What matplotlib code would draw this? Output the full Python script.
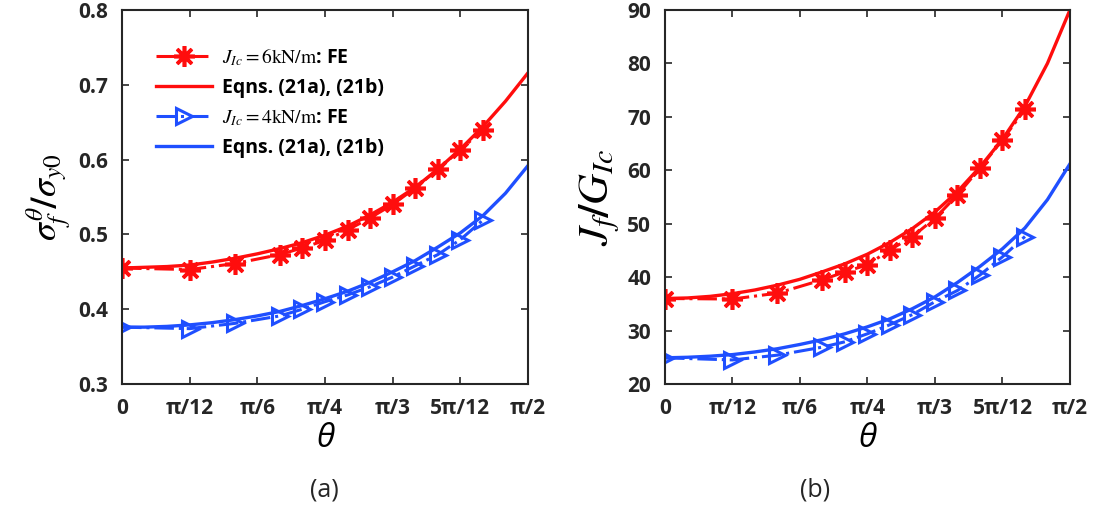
import matplotlib.pyplot as plt
import numpy as np

plt.rcParams['font.family'] = ['Open Sans', 'DejaVu Sans']
plt.rcParams['mathtext.fontset'] = 'stix'

# angles in degrees
theta_fe = [0, 15, 25, 35, 40, 45, 50, 55, 60, 65, 70, 75, 80]
theta_eq = [0, 5, 10, 15, 20, 25, 30, 35, 40, 45, 50, 55, 60, 65, 70, 75, 80, 85, 90]

# (a) normalised flow stress
sig_fe_6 = [0.455, 0.453, 0.461, 0.473, 0.482, 0.492, 0.506, 0.522, 0.540, 0.562, 0.587, 0.613, 0.640]
sig_eq_6 = [0.455, 0.456, 0.457, 0.459, 0.463, 0.468, 0.474, 0.481, 0.489, 0.499,
            0.511, 0.526, 0.543, 0.563, 0.587, 0.614, 0.644, 0.678, 0.716]
sig_fe_4 = [0.376, 0.374, 0.381, 0.391, 0.400, 0.410, 0.419, 0.430, 0.443, 0.458, 0.473, 0.493, 0.519]
sig_eq_4 = [0.376, 0.376, 0.377, 0.379, 0.382, 0.386, 0.391, 0.397, 0.405, 0.414,
            0.424, 0.436, 0.450, 0.465, 0.483, 0.502, 0.525, 0.555, 0.592]

# (b) normalised J
j_fe_6 = [36.0, 35.9, 37.0, 39.5, 41.0, 42.3, 45.1, 47.6, 51.0, 55.4, 60.4, 65.7, 71.4]
j_eq_6 = [36.0, 36.1, 36.4, 36.9, 37.6, 38.5, 39.6, 41.0, 42.5, 44.3,
          46.5, 49.1, 52.2, 56.0, 60.6, 65.8, 72.0, 80.0, 90.0]
j_fe_4 = [24.9, 24.5, 25.4, 26.9, 27.9, 29.4, 31.1, 33.0, 35.4, 37.5, 40.4, 43.8, 47.6]
j_eq_4 = [24.9, 25.0, 25.2, 25.5, 26.0, 26.6, 27.4, 28.3, 29.4, 30.7,
          32.2, 34.1, 36.3, 39.0, 42.0, 45.3, 49.2, 54.5, 61.2]

tick_labels = ['0', 'π/12', 'π/6', 'π/4', 'π/3', '5π/12', 'π/2']

red = '#ff0d0d'
blue = '#1f4fff'

x_fe = np.deg2rad(theta_fe)
x_eq = np.deg2rad(theta_eq)

fig = plt.figure(figsize=(10.93, 5.09), dpi=100)
ax1 = fig.add_axes([0.1116, 0.2456, 0.3715, 0.7348])
ax2 = fig.add_axes([0.6084, 0.2456, 0.3705, 0.7348])


def draw(ax, fe6, eq6, fe4, eq4):
    ax.plot(x_fe, fe6, '-.', color=red, lw=2.2, marker=(8, 2, 0), ms=15, mew=2.6,
            label=r'$J_{Ic}\mathrm{=6kN/m}$: FE')
    ax.plot(x_eq, eq6, '-', color=red, lw=2.4, label='Eqns. (21a), (21b)')
    ax.plot(x_fe, fe4, '-.', color=blue, lw=2.2, marker='>', ms=12, mew=2.2,
            mfc='none', label=r'$J_{Ic}\mathrm{=4kN/m}$: FE')
    ax.plot(x_eq, eq4, '-', color=blue, lw=2.4, label='Eqns. (21a), (21b)')
    ax.set_xlim(0, np.pi / 2)
    ax.set_xticks(np.arange(7) * np.pi / 12)
    ax.set_xticklabels(tick_labels)
    ax.tick_params(direction='in', top=True, right=True, length=5, width=1.2,
                   labelsize=15, colors='#262626', pad=10)
    for sp in ax.spines.values():
        sp.set_linewidth(1.5)
        sp.set_color('#262626')
    ax.set_xlabel('θ', fontsize=24, style='italic', labelpad=2)


draw(ax1, sig_fe_6, sig_eq_6, sig_fe_4, sig_eq_4)
ax1.set_ylim(0.3, 0.8)
ax1.set_yticks([0.3, 0.4, 0.5, 0.6, 0.7, 0.8])
ax1.set_ylabel(r'$\boldsymbol{\sigma_f^{\theta}/\sigma_{y0}}$', fontsize=26, labelpad=4)
leg = ax1.legend(loc='upper left', bbox_to_anchor=(0.04, 0.95), frameon=False,
                 fontsize=14, handlelength=2.9, labelspacing=0.5, handletextpad=0.5)
for t in leg.get_texts():
    t.set_fontweight('bold')

draw(ax2, j_fe_6, j_eq_6, j_fe_4, j_eq_4)
ax2.set_ylim(20, 90)
ax2.set_yticks(np.arange(20, 91, 10))
ax2.set_ylabel(r'$\boldsymbol{J_f/G_{Ic}}$', fontsize=31, labelpad=4)

for ax in (ax1, ax2):
    for lab in ax.get_xticklabels() + ax.get_yticklabels():
        lab.set_fontweight('bold')

fig.text(0.2972, 0.037, '(a)', fontsize=18, ha='center', va='center', color='#262626')
fig.text(0.7456, 0.037, '(b)', fontsize=18, ha='center', va='center', color='#262626')

fig.savefig('out.png', dpi=100)
